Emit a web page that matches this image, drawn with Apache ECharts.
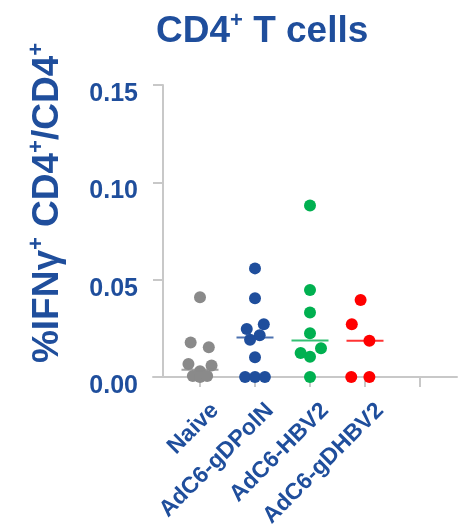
<!DOCTYPE html>
<html>
<head>
<meta charset="utf-8">
<script src="https://cdn.jsdelivr.net/npm/echarts@6/dist/echarts.min.js"></script>
<style>html,body{margin:0;padding:0;background:#fff}#c{width:466px;height:525px}</style>
</head>
<body>
<div id="c"></div>
<script>
var categories = ['Naive', 'AdC6-gDPolN', 'AdC6-HBV2', 'AdC6-gDHBV2'];
var colors = ['#8a8a8a', '#1f4e9c', '#00b050', '#ff0000'];
var yTicks = [0, 0.05, 0.10, 0.15];

var naiveValues  = [0.041, 0.0177, 0.0153, 0.0067, 0.0059, 0.0030, 0.0005, 0.0, 0.0005];
var naiveJitter  = [0, -0.17, 0.16, -0.21, 0.21, 0, -0.13, 0, 0.13];
var gdpolnValues = [0.0558, 0.0404, 0.0271, 0.0246, 0.0215, 0.0191, 0.0101, 0, 0, 0];
var gdpolnJitter = [0, 0, 0.16, -0.15, 0.085, -0.09, 0, -0.18, 0, 0.18];
var hbv2Values   = [0.0881, 0.0447, 0.0331, 0.0225, 0.0148, 0.0123, 0.0104, 0];
var hbv2Jitter   = [0, 0, 0, 0, 0.2, -0.17, 0, 0];
var gdhbv2Values = [0.0396, 0.0271, 0.0186, 0, 0];
var gdhbv2Jitter = [-0.08, -0.24, 0.08, -0.25, 0.08];
var medians      = [0.0037, 0.0203, 0.0187, 0.0186];

var groups = [
  [naiveValues, naiveJitter],
  [gdpolnValues, gdpolnJitter],
  [hbv2Values, hbv2Jitter],
  [gdhbv2Values, gdhbv2Jitter]
];

var txt = '#1f4e9c';
var font = '"Liberation Sans", Arial, sans-serif';
var series = [];
groups.forEach(function (g, i) {
  series.push({
    type: 'scatter',
    symbol: 'circle',
    symbolSize: 12,
    itemStyle: { color: colors[i], opacity: 1 },
    data: g[0].map(function (v, k) { return [i + 1 + g[1][k], v]; }),
    z: 2
  });
});
series.push({
  type: 'scatter',
  symbol: 'rect',
  symbolSize: [37, 2],
  data: medians.map(function (m, i) { return { value: [i + 1, m], itemStyle: { color: colors[i] } }; }),
  z: 3
});

var xMin = 1 - 47 / 55, xMax = xMin + 304 / 55;
var labelShift = 15 / 55;

var chart = echarts.init(document.getElementById('c'), null, { renderer: 'canvas' });
chart.setOption({
  animation: false,
  backgroundColor: '#fff',
  textStyle: { fontFamily: font },
  title: {
    text: '{a|CD4}{s|+}{a| T cells}',
    left: 151,
    top: 5,
    textStyle: {
      rich: {
        a: { fontSize: 37, fontWeight: 'bold', color: txt, fontFamily: font, verticalAlign: 'bottom', lineHeight: 40 },
        s: { fontSize: 22, fontWeight: 'bold', color: txt, fontFamily: font, verticalAlign: 'top', lineHeight: 40 }
      }
    }
  },
  grid: { left: 153, right: 9, top: 85, bottom: 148, containLabel: false, outerBoundsMode: 'none' },
  xAxis: [{
    type: 'value',
    position: 'bottom',
    min: xMin,
    max: xMax,
    splitLine: { show: false },
    axisLine: { show: true, onZero: false, lineStyle: { color: '#c8c8c8', width: 2 } },
    axisTick: { show: true, length: 10, customValues: [1, 2, 3, 4, 5], lineStyle: { color: '#c8c8c8', width: 2 } },
    axisLabel: { show: false }
  }, {
    type: 'value',
    position: 'bottom',
    offset: 0,
    min: xMin - labelShift,
    max: xMax - labelShift,
    splitLine: { show: false },
    axisLine: { show: false, onZero: false },
    axisTick: { show: false },
    axisLabel: {
      customValues: [1, 2, 3, 4],
      rotate: 45,
      margin: 30,
      fontSize: 23,
      fontWeight: 'bold',
      color: txt,
      fontFamily: font,
      formatter: function (v) { return categories[Math.round(v) - 1] || ''; }
    }
  }],
  yAxis: {
    type: 'value',
    min: 0,
    max: 0.15,
    interval: 0.05,
    offset: -10,
    splitLine: { show: false },
    axisLine: { show: true, lineStyle: { color: '#c8c8c8', width: 2 } },
    axisTick: { show: true, length: 10, lineStyle: { color: '#c8c8c8', width: 2 } },
    axisLabel: {
      margin: 25,
      fontFamily: font,
      formatter: function (v) {
        var idx = yTicks.findIndex(function (t) { return Math.abs(t - v) < 1e-9; });
        return idx >= 0 ? '{v|' + yTicks[idx].toFixed(2) + '}' : '';
      },
      rich: {
        v: { fontSize: 25, fontWeight: 'bold', color: txt, fontFamily: font, padding: [18, 0, 0, 0] }
      }
    }
  },
  graphic: [{
    type: 'text',
    x: 46,
    y: 203,
    rotation: Math.PI / 2,
    style: {
      text: '{a|%IFNγ}{s|+}{a| CD4}{s|+}{a|/CD4}{s|+}',
      align: 'center',
      verticalAlign: 'middle',
      rich: {
        a: { fontSize: 37, fontWeight: 'bold', fill: txt, fontFamily: font, verticalAlign: 'bottom', lineHeight: 40 },
        s: { fontSize: 22, fontWeight: 'bold', fill: txt, fontFamily: font, verticalAlign: 'top', lineHeight: 40 }
      }
    }
  }],
  series: series
});
</script>
</body>
</html>
